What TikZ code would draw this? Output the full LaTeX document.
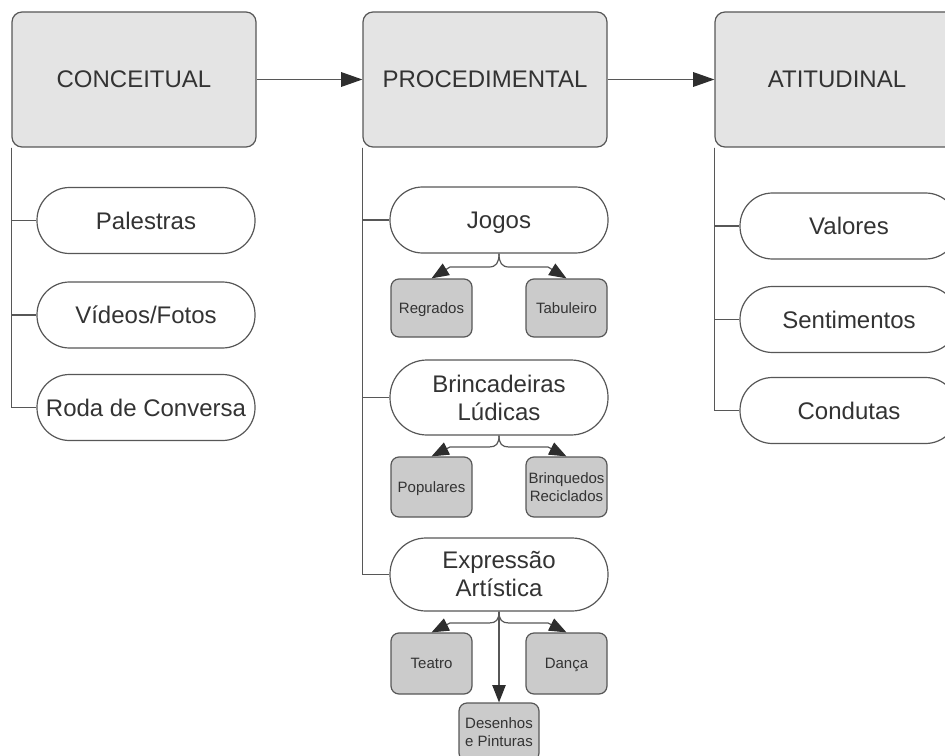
\documentclass[tikz,border=0pt]{standalone}
\usepackage{fontspec}
\setmainfont{Liberation Sans}
\usetikzlibrary{arrows.meta}

\definecolor{lineg}{HTML}{575757}
\definecolor{arrowg}{HTML}{2E2E2E}
\definecolor{textg}{HTML}{333333}
\definecolor{topfill}{HTML}{E4E4E4}
\definecolor{subfill}{HTML}{CBCBCB}
\newcommand{\pxu}{0.75pt}

\tikzset{every picture/.style={line width=0.9pt}}
\tikzset{
  mainbox/.style={draw=lineg, fill=topfill, rounded corners=7.5pt, minimum width=244*\pxu, minimum height=135*\pxu, inner sep=0pt, text=textg, font=\fontsize{18}{21}\selectfont},
  pill/.style={draw=lineg, fill=white, rounded corners=#1*0.37pt, minimum width=218*\pxu, minimum height=#1*\pxu, inner sep=0pt, align=center, text=textg, font=\fontsize{18}{21}\selectfont},
  pill/.default=66,
  subbox/.style={draw=lineg, fill=subfill, rounded corners=6pt, minimum width=81*\pxu, minimum height=58*\pxu, inner sep=0pt, align=center, text=textg, font=\fontsize{11.25}{13.5}\selectfont},
  bigline/.style={text height=12.9pt, text depth=0pt},
  smallline/.style={text height=8pt, text depth=0pt},
  link/.style={draw=lineg},
  bigarrow/.style={draw=lineg, -{Triangle[length=16pt,width=11pt,color=arrowg]}},
  tiparrow/.style={draw=lineg, -{Triangle[length=13pt,width=10pt,color=arrowg]}}
}

\begin{document}
\begin{tikzpicture}[x=0.75pt,y=0.75pt,yscale=-1,xscale=1]
        \useasboundingbox (0,0) rectangle (945,756);
        \clip (0,0) rectangle (945,756);

        % Top boxes
        \node [mainbox] (con) at (134,79.5) {CONCEITUAL};
        \node [mainbox] (proc) at (485,79.5) {PROCEDIMENTAL};
        \node [mainbox] (ati) at (837,79.5) {ATITUDINAL};

        % Conceitual items
        \node [pill] (pal) at (146,220.5) {Palestras};
        \node [pill] (vid) at (146,315) {Vídeos/Fotos};
        \node [pill] (roda) at (146,407.5) {Roda de Conversa};

        % Procedimental items
        \node [pill, align=left, bigline] (jogos) at (499,220) {Jogos};
        \node [pill=75] (brinc) at (499,397.5) {Brincadeiras\\Lúdicas};
        \node [pill=73] (expr) at (499,574.5) {Expressão\\Artística};

        % Atitudinal items
        \node [pill] (val) at (849,226) {Valores};
        \node [pill] (sent) at (849,319.5) {Sentimentos};
        \node [pill] (cond) at (849,410.5) {Condutas};

        % Sub boxes
        \node [subbox, smallline] (reg) at (431.5,308) {Regrados};
        \node [subbox] (tab) at (566.5,308) {Tabuleiro};
        \node [subbox, smallline, minimum height=60*\pxu] (pop) at (431.5,487) {Populares};
        \node [subbox, minimum height=60*\pxu] (brq) at (566.5,487) {Brinquedos\\Reciclados};
        \node [subbox, minimum height=61*\pxu] (tea) at (431.5,663.5) {Teatro};
        \node [subbox, smallline, minimum height=61*\pxu] (dan) at (566.5,663.5) {Dança};
        \node [subbox, minimum width=80*\pxu] (des) at (499,732) {Desenhos\\e Pinturas};

        % Main arrows
        \draw [bigarrow] (con) -- (proc);
        \draw [bigarrow] (proc) -- (ati);

        % Trunks
        \draw [link] (con.south west) |- (pal);
        \draw [link] (con.south west) |- (vid);
        \draw [link] (con.south west) |- (roda);
        \draw [link] (proc.south west) |- (jogos);
        \draw [link] (proc.south west) |- (brinc);
        \draw [link] (proc.south west) |- (expr);
        \draw [link] (ati.south west) |- (val);
        \draw [link] (ati.south west) |- (sent);
        \draw [link] (ati.south west) |- (cond);

        % Braces under Jogos
        \draw [tiparrow] (jogos.south) .. controls (499,263) and (496,267) .. (489,267) -- (450,267) -- (reg.north);
        \draw [tiparrow] (jogos.south) .. controls (499,263) and (502,267) .. (509,267) -- (548,267) -- (tab.north);
        % Braces under Brincadeiras
        \draw [tiparrow] (brinc.south) .. controls (499,444) and (496,447) .. (489,447) -- (450,447) -- (pop.north);
        \draw [tiparrow] (brinc.south) .. controls (499,444) and (502,447) .. (509,447) -- (548,447) -- (brq.north);
        % Braces under Expressao
        \draw [tiparrow] (expr.south) .. controls (499,620) and (496,623) .. (489,623) -- (450,623) -- (tea.north);
        \draw [tiparrow] (expr.south) .. controls (499,620) and (502,623) .. (509,623) -- (548,623) -- (dan.north);
        \draw [tiparrow] (expr) -- (des);
\end{tikzpicture}
\end{document}
